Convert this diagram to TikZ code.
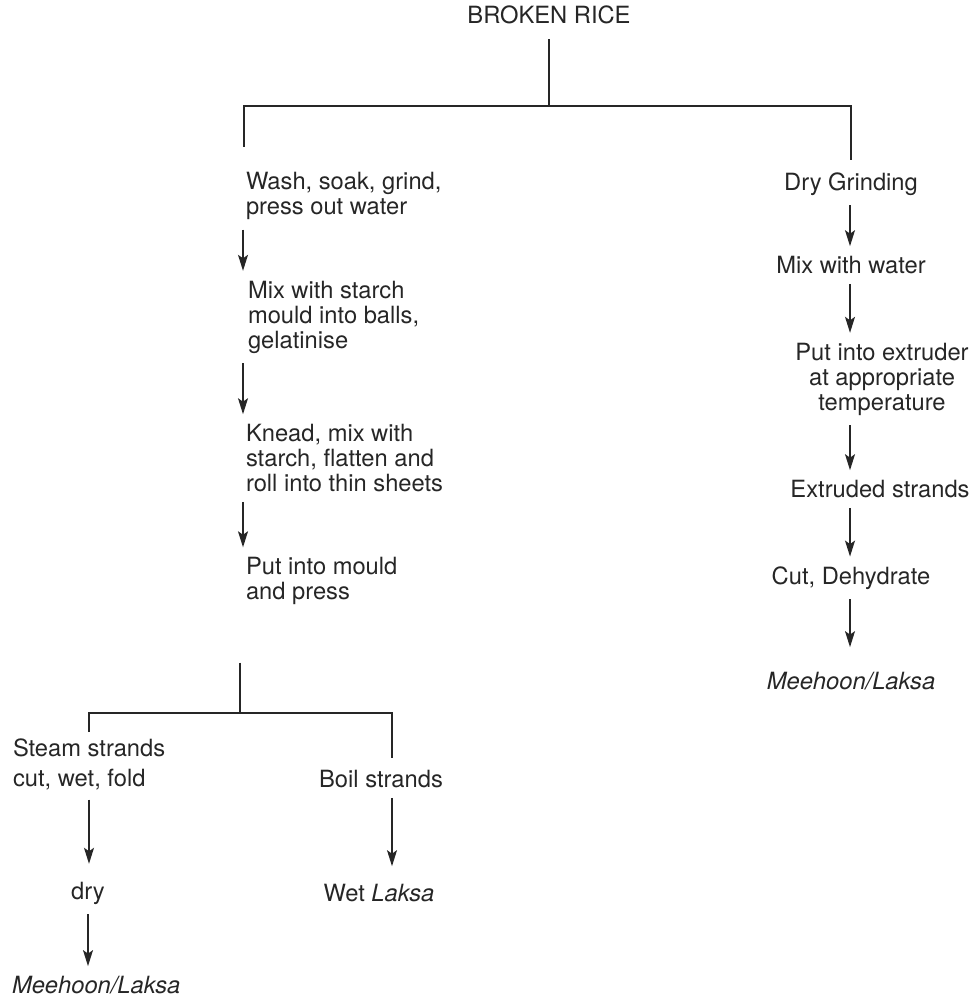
\documentclass[tikz,border=0pt]{standalone}
\usepackage{fontspec}
\setmainfont{TeX Gyre Heros}
\usetikzlibrary{arrows.meta,positioning,calc}
\definecolor{ink}{HTML}{262626}

\begin{document}
\begin{tikzpicture}[x=0.02cm,y=-0.02cm,
  font=\fontsize{13.5}{14.2}\selectfont,
  every node/.style={inner sep=0pt,outer xsep=0pt,outer ysep=0.2cm,text=ink},
  stage/.style={align=left,anchor=west},
  rstage/.style={align=center},
  ln/.style={draw=ink,line width=0.8pt},
  arr/.style={ln,-{Stealth[length=0.32cm,width=0.2cm,inset=0.07cm]}}
]
\useasboundingbox (0,0) rectangle (979,996);

\node (rice) at (549,15) {BROKEN RICE};

% wet milling branch
\node[stage] (wash)   at (246,196) {Wash, soak, grind,\\press out water};
\node[stage] (starch) at (248,317) {Mix with starch\\mould into balls,\\gelatinise};
\node[stage] (knead)  at (246,458) {Knead, mix with\\starch, flatten and\\roll into thin sheets};
\node[stage] (mould)  at (246,581) {Put into mould\\and press};
\node[stage,font=\fontsize{13.5}{17}\selectfont] (steam) at (13,764) {Steam strands\\cut, wet, fold};
\node (boil)   at (381,779) {Boil strands};
\node (dry)    at (88,893)  {dry};
\node (wet)    at (379,893) {Wet \textit{Laksa}};
\node[stage] (mhleft) at (12,985) {\textit{Meehoon/Laksa}};

% dry milling branch
\node (grind)    at (851,184) {Dry Grinding};
\node (water)    at (851,265) {Mix with water};
\node[rstage] (extruder) at (882,379) {Put into extruder\\at appropriate\\temperature};
\node (strands)  at (880,489) {Extruded strands};
\node (cut)      at (851,578) {Cut, Dehydrate};
\node (mhright)  at (851,681) {\textit{Meehoon/Laksa}};

% brackets
\coordinate (top)   at (549,106);
\coordinate (wdrop) at (244,147);
\coordinate (gdrop) at (851,160);
\coordinate (low)   at (240,713);
\coordinate (sdrop) at (89,732);
\coordinate (bdrop) at (392,758);
\coordinate (lx)    at (243,0);
\coordinate (rx)    at (850,0);

\draw[ln,shorten <=0.1cm] (rice) -- (top);
\draw[ln] (wdrop) |- (top) -| (gdrop);
\draw[ln,shorten <=0.96cm] (mould.south -| low) -- (low);
\draw[ln] (sdrop) |- (low) -| (bdrop);

\draw[arr] (wash.south -| lx) -- (starch.north -| lx);
\draw[arr] (starch.south -| lx) -- (knead.north -| lx);
\draw[arr] (knead.south -| lx) -- (mould.north -| lx);
\draw[arr,shorten >=0.16cm] (steam.south -| sdrop) -- (dry.north -| sdrop);
\draw[arr,shorten >=0.16cm] (boil.south -| bdrop) -- (wet.north -| bdrop);
\draw[arr] (dry) -- (mhleft.north -| dry);

\draw[arr] (grind.south -| rx) -- (water.north -| rx);
\draw[arr] (water.south -| rx) -- (extruder.north -| rx);
\draw[arr] (extruder.south -| rx) -- (strands.north -| rx);
\draw[arr] (strands.south -| rx) -- (cut.north -| rx);
\draw[arr,shorten >=0.3cm] (cut.south -| rx) -- (mhright.north -| rx);
\end{tikzpicture}
\end{document}
